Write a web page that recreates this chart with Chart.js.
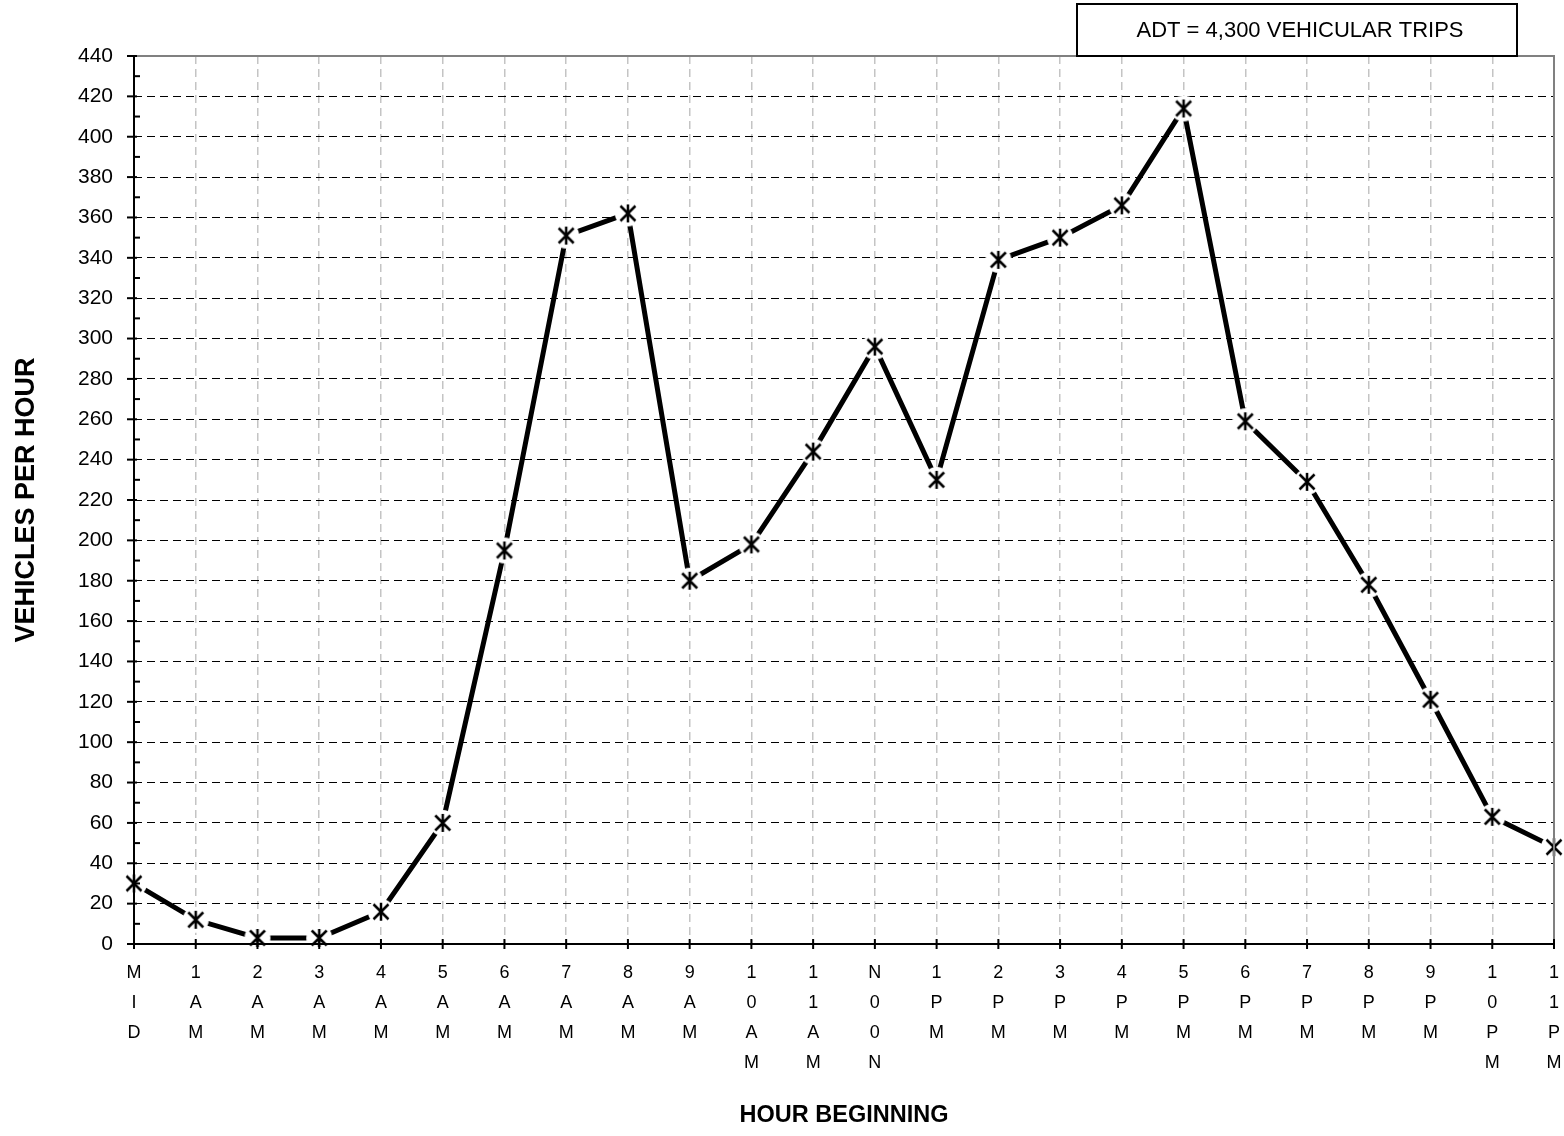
<!DOCTYPE html>
<html>
<head>
<meta charset="utf-8">
<script src="https://cdn.jsdelivr.net/npm/chart.js@4/dist/chart.umd.min.js"></script>
<style>
  html, body { margin: 0; padding: 0; background: #fff; overflow: hidden; }
  #wrap { width: 1564px; height: 1136px; }
</style>
</head>
<body>
<div id="wrap"><canvas id="chTraffic"></canvas></div>
<script>
// hourly traffic volume profile

const hourLabels = ['MID', '1AM', '2AM', '3AM', '4AM', '5AM', '6AM', '7AM', '8AM', '9AM', '10AM', '11AM',
    'N00N', '1PM', '2PM', '3PM', '4PM', '5PM', '6PM', '7PM', '8PM', '9PM', '10PM', '11PM'];
const vehiclesPerHour = [30, 12, 3, 3, 16, 60, 195, 351, 362, 180, 198, 244,
    296, 230, 339, 350, 366, 414, 259, 229, 178, 121, 63, 48];
const yMin = 0, yMax = 440, yStep = 20;
const adtText = 'ADT = 4,300 VEHICULAR TRIPS';

const FONT = '"Liberation Sans", Arial, sans-serif';

// asterisk-like marker (X plus vertical bar) with white halo
function makeMarker() {
    const c = document.createElement('canvas');
    c.width = 30; c.height = 30;
    const g = c.getContext('2d');
    g.fillStyle = '#fff';
    g.beginPath(); g.arc(15, 15, 13, 0, Math.PI * 2); g.fill();
    g.strokeStyle = '#000';
    g.lineWidth = 2.5;
    g.beginPath();
    g.moveTo(7.5, 7.5); g.lineTo(22.5, 22.5);
    g.moveTo(7.5, 22.5); g.lineTo(22.5, 7.5);
    g.moveTo(15, 6); g.lineTo(15, 24);
    g.stroke();
    return c;
}

const frame = {
    id: 'frame',
    afterDraw(chart) {
        const ctx = chart.ctx, a = chart.chartArea;
        const xs = chart.scales.x, ys = chart.scales.y;
        ctx.save();
        // gray top/right border
        ctx.strokeStyle = '#808080';
        ctx.lineWidth = 2;
        ctx.beginPath();
        ctx.moveTo(a.left, a.top); ctx.lineTo(a.right, a.top); ctx.lineTo(a.right, a.bottom);
        ctx.stroke();
        // axes
        ctx.strokeStyle = '#000';
        ctx.beginPath();
        ctx.moveTo(a.left, a.top); ctx.lineTo(a.left, a.bottom); ctx.lineTo(a.right, a.bottom);
        ctx.stroke();
        // x tick marks
        xs.ticks.forEach((t, i) => {
            const px = xs.getPixelForTick(i);
            ctx.beginPath(); ctx.moveTo(px, a.bottom - 5); ctx.lineTo(px, a.bottom + 5); ctx.stroke();
        });
        // y major and minor ticks
        for (let v = yMin; v <= yMax; v += yStep) {
            const py = ys.getPixelForValue(v);
            ctx.beginPath(); ctx.moveTo(a.left - 7, py); ctx.lineTo(a.left + 3, py); ctx.stroke();
            if (v < yMax) {
                const pm = ys.getPixelForValue(v + yStep / 2);
                ctx.beginPath(); ctx.moveTo(a.left, pm); ctx.lineTo(a.left + 6, pm); ctx.stroke();
            }
        }
        // ADT box
        ctx.fillStyle = '#fff';
        ctx.fillRect(1077, 4, 440, 52);
        ctx.strokeStyle = '#000';
        ctx.lineWidth = 2;
        ctx.strokeRect(1077, 4, 440, 52);
        ctx.fillStyle = '#000';
        ctx.font = '22px ' + FONT;
        ctx.textAlign = 'center';
        ctx.textBaseline = 'middle';
        ctx.fillText(adtText, 1300, 31);
        ctx.restore();
    }
};

const ctx = document.getElementById('chTraffic');
new Chart(ctx.getContext('2d'), {
    type: 'line',
    data: {
        labels: hourLabels,
        datasets: [{
            data: vehiclesPerHour,
            borderColor: '#000',
            borderWidth: 5,
            tension: 0,
            pointStyle: makeMarker(),
            pointRadius: 10,
            clip: false
        }]
    },
    options: {
        responsive: true,
        maintainAspectRatio: false,
        animation: false,
        layout: { autoPadding: false, padding: { top: 56, right: 10, bottom: 0, left: 0 } },
        plugins: { legend: { display: false }, tooltip: { enabled: false } },
        scales: {
            x: {
                afterFit: s => { s.height = 192; s.paddingLeft = 0; s.paddingRight = 0; },
                border: { display: false, dash: [8, 5] },
                grid: {
                    drawTicks: false,
                    color: c => (c.index === 0 || c.index === hourLabels.length - 1) ? 'rgba(0,0,0,0)' : '#c4c4c4',
                    lineWidth: 1.5
                },
                ticks: {
                    autoSkip: false,
                    maxRotation: 0,
                    padding: 14,
                    color: '#000',
                    font: { family: FONT, size: 18, lineHeight: '30px' },
                    callback: (v, i) => hourLabels[i].split('')
                },
                title: {
                    display: true,
                    text: 'HOUR BEGINNING',
                    color: '#000',
                    padding: { top: 0, bottom: 6 },
                    font: { family: FONT, size: 23.5, weight: 'bold' }
                }
            },
            y: {
                min: yMin,
                max: yMax,
                afterFit: s => { s.width = 134; s.paddingTop = 0; s.paddingBottom = 0; },
                border: { display: false, dash: [8, 5] },
                grid: {
                    drawTicks: false,
                    color: c => (c.tick.value === yMin || c.tick.value === yMax) ? 'rgba(0,0,0,0)' : '#000',
                    lineWidth: 1
                },
                ticks: {
                    stepSize: yStep,
                    padding: 21,
                    color: '#000',
                    font: { family: FONT, size: 21 }
                },
                title: {
                    display: true,
                    text: 'VEHICLES PER HOUR',
                    color: '#000',
                    padding: { top: 10, bottom: 0 },
                    font: { family: FONT, size: 27, weight: 'bold' }
                }
            }
        }
    },
    plugins: [frame]
});
</script>
</body>
</html>
